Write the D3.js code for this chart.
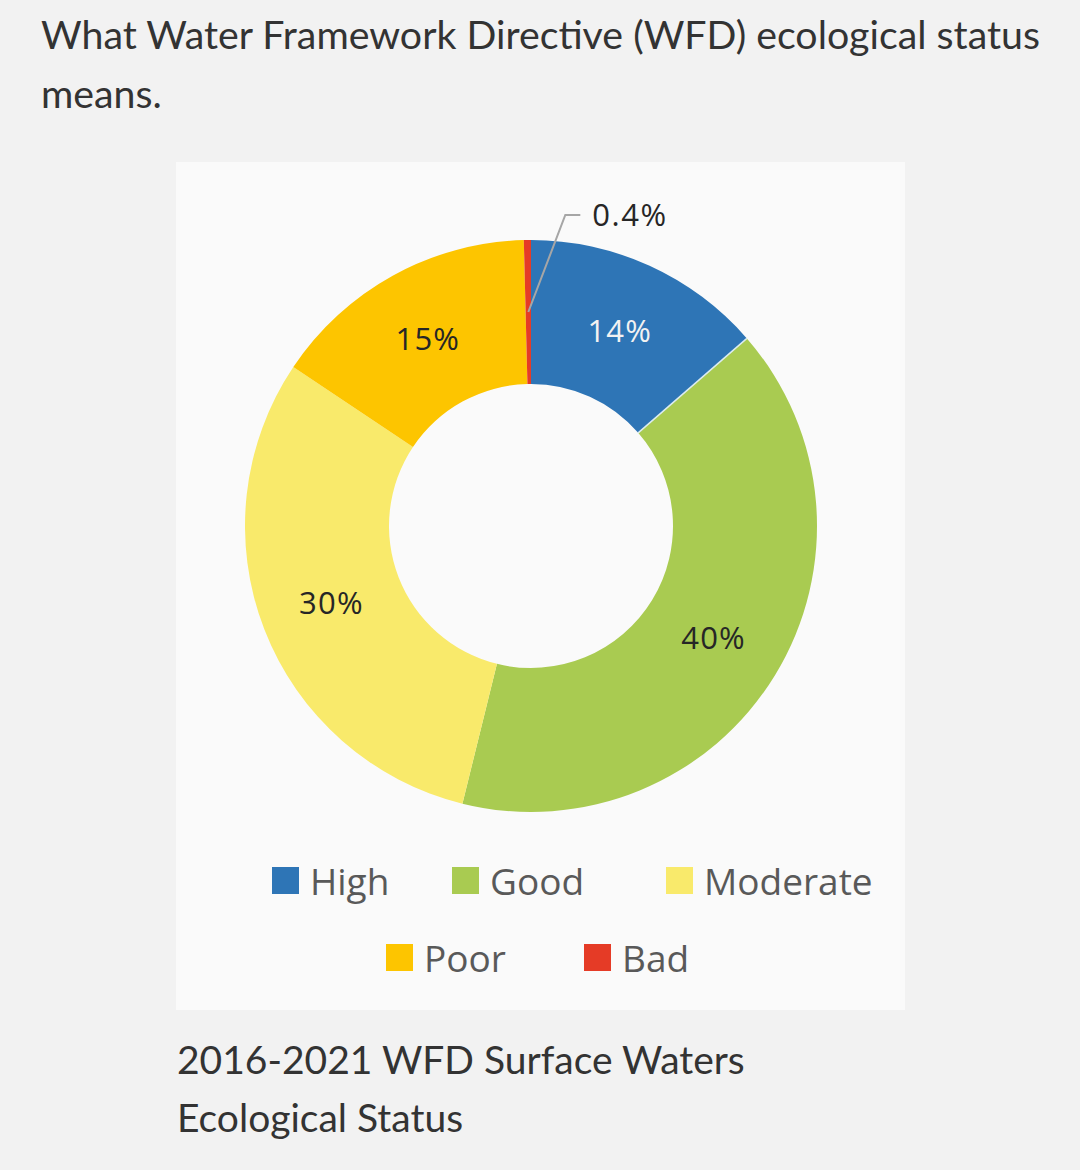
<!DOCTYPE html>
<html>
<head>
<meta charset="utf-8">
<script src="https://cdn.jsdelivr.net/npm/d3@7"></script>
<style>
  body { margin: 0; background: #f2f2f2; }
</style>
</head>
<body>
<script>
// donnees du graphique
const categories = ["High", "Good", "Moderate", "Poor", "Bad"];
const values = [13.6, 40.2, 30.5, 15.2, 0.4];
const labels = ["14%", "40%", "30%", "15%", "0.4%"];
const colors = ["#2e75b6", "#a9cb51", "#f9ea6b", "#fdc500", "#e53b26"];
const labelColors = ["#f2f2f2", "#262626", "#262626", "#262626", "#262626"];

const titleLines = ["What Water Framework Directive (WFD) ecological status", "means."];
const captionLines = ["2016-2021 WFD Surface Waters", "Ecological Status"];

// dimensions
const W = 1080, H = 1170;
const panel = {x: 176, y: 162, w: 729, h: 848};
const cx = 531, cy = 526, outerR = 286, innerR = 142;

const svg = d3.select("body").append("svg")
    .attr("width", W)
    .attr("height", H)
    .style("display", "block");

// titre
svg.append("g").selectAll("text")
    .data(titleLines)
    .join("text")
    .attr("x", 41)
    .attr("y", (d, i) => 49 + i * 59)
    .style("font-family", "Lato")
    .style("font-size", "39.3px")
    .style("fill", "#333")
    .text(d => d);

// cadre du graphique
svg.append("rect")
    .attr("x", panel.x).attr("y", panel.y)
    .attr("width", panel.w).attr("height", panel.h)
    .attr("fill", "#fafafa");

// camembert (donut)
const pie = d3.pie().sort(null).value(d => d);
const arcs = pie(values);
const arc = d3.arc().innerRadius(innerR).outerRadius(outerR);
const labelArc = d3.arc().innerRadius(214).outerRadius(214);

const g = svg.append("g").attr("transform", `translate(${cx}, ${cy})`);

g.selectAll("path")
    .data(arcs)
    .join("path")
    .attr("d", arc)
    .attr("fill", (d, i) => colors[i]);

// fine ligne claire entre High et Good
const a = arcs[0].endAngle;
g.append("line")
    .attr("x1", innerR * Math.sin(a)).attr("y1", -innerR * Math.cos(a))
    .attr("x2", outerR * Math.sin(a)).attr("y2", -outerR * Math.cos(a))
    .attr("stroke", "#dcecef")
    .attr("stroke-width", 1.5);

// etiquettes dans les parts
const inside = arcs.filter(d => d.value >= 1);
g.selectAll("text.lbl")
    .data(inside)
    .join("text")
    .attr("class", "lbl")
    .attr("transform", d => `translate(${labelArc.centroid(d)})`)
    .attr("text-anchor", "middle")
    .attr("dy", "0.36em")
    .style("font-family", "Open Sans")
    .style("font-size", "31px")
    .style("letter-spacing", "1.2px")
    .style("fill", d => labelColors[d.index])
    .text(d => labels[d.index]);

// petite part avec ligne de rappel
arcs.filter(d => d.value < 1).forEach(d => {
    const [sx, sy] = labelArc.centroid(d);
    const ex = sx + 37, ey = sy - 97;
    g.append("polyline")
        .attr("points", [[sx, sy], [ex, ey], [ex + 15, ey]].map(p => p.join(",")).join(" "))
        .attr("fill", "none")
        .attr("stroke", "#a6a6a6")
        .attr("stroke-width", 2);
    g.append("text")
        .attr("x", ex + 27)
        .attr("y", ey)
        .attr("dy", "0.36em")
        .style("font-family", "Open Sans")
        .style("font-size", "31px")
        .style("letter-spacing", "1.5px")
        .style("fill", "#262626")
        .text(labels[d.index]);
});

// legende
const legendRows = [[0, 1, 2], [3, 4]];
const legendX = [[272, 452, 666], [386, 584]];
const legendY = [867, 944];
legendRows.forEach((row, r) => {
    row.forEach((k, j) => {
        const lg = svg.append("g")
            .attr("transform", `translate(${legendX[r][j]}, ${legendY[r]})`);
        lg.append("rect")
            .attr("width", 27).attr("height", 27)
            .attr("fill", colors[k]);
        lg.append("text")
            .attr("x", 38)
            .attr("y", 28)
            .style("font-family", "Open Sans")
            .style("font-size", "37px")
            .style("fill", "#595959")
            .text(categories[k]);
    });
});

// legende du bas
svg.append("g").selectAll("text")
    .data(captionLines)
    .join("text")
    .attr("x", 177)
    .attr("y", (d, i) => 1074 + i * 58)
    .style("font-family", "Lato")
    .style("font-size", "39px")
    .style("fill", "#333")
    .text(d => d);
</script>
</body>
</html>
